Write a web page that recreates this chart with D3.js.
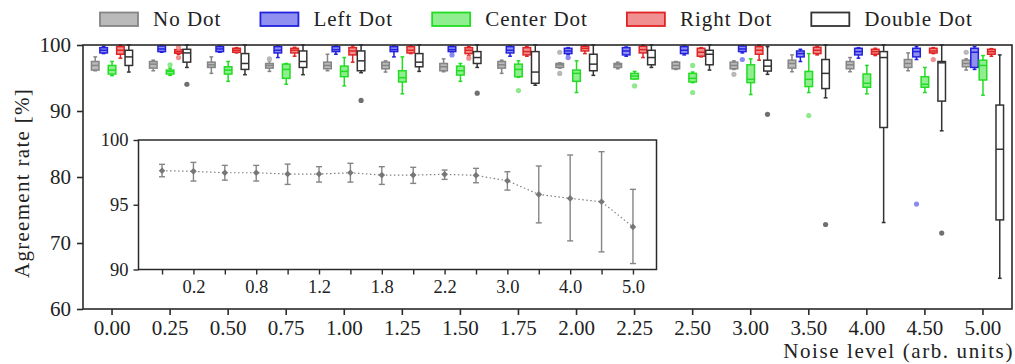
<!DOCTYPE html>
<html>
<head>
<meta charset="utf-8">
<script src="https://cdn.jsdelivr.net/npm/d3@7"></script>
<style>
  body { margin: 0; background: #fff; }
  svg text { font-family: "Liberation Serif", "Times New Roman", serif; fill: #222; }
</style>
</head>
<body>
<svg id="chart" width="1015" height="364"></svg>
<script>
// ─── Data ─────────────────────────────────────────────────────────────────────
const noiseLevels = ["0.00", "0.25", "0.50", "0.75", "1.00", "1.25", "1.50", "1.75",
  "2.00", "2.25", "2.50", "3.00", "3.50", "4.00", "4.50", "5.00"];
const seriesNames = ["No Dot", "Left Dot", "Center Dot", "Right Dot", "Double Dot"];

// box stats per noise level: [whisker low, Q1, median, Q3, whisker high]
const noDot = [
  [96.1, 96.2, 96.9, 97.5, 98.2], [96.1, 96.5, 97.1, 97.5, 97.7], [95.7, 96.6, 97.0, 97.4, 98.2],
  [96.0, 96.5, 96.9, 97.2, 97.6], [96.1, 96.4, 96.9, 97.4, 98.6], [95.9, 96.4, 96.9, 97.4, 97.6],
  [95.95, 96.1, 96.7, 97.2, 97.9], [95.7, 96.5, 97.0, 97.5, 97.7], [96.5, 96.6, 97.0, 97.2, 97.3],
  [96.4, 96.6, 97.0, 97.2, 97.4], [96.3, 96.4, 96.9, 97.4, 97.5], [96.3, 96.4, 96.9, 97.4, 97.6],
  [95.95, 96.5, 97.2, 97.7, 98.5], [95.95, 96.4, 97.0, 97.5, 98.1], [96.1, 96.6, 97.2, 97.8, 98.8],
  [96.2, 96.7, 97.2, 97.7, 97.9]
];
const leftDot = [
  [98.7, 98.8, 99.2, 99.6, 99.8], [98.9, 99.0, 99.4, 99.85, 99.95], [98.9, 99.0, 99.4, 99.75, 99.85],
  [98.1, 98.8, 99.2, 99.75, 99.85], [98.6, 99.0, 99.3, 99.75, 99.85], [98.2, 99.0, 99.3, 99.75, 99.85],
  [98.8, 99.0, 99.3, 99.75, 99.85], [98.3, 98.8, 99.2, 99.75, 99.85], [98.5, 98.7, 99.1, 99.5, 99.6],
  [98.3, 98.5, 99.1, 99.6, 99.7], [98.5, 98.7, 99.2, 99.75, 99.85], [98.8, 99.0, 99.4, 99.85, 99.95],
  [97.5, 98.2, 98.7, 99.1, 99.35], [98.0, 98.5, 99.0, 99.5, 99.6], [97.8, 98.2, 99.0, 99.5, 99.75],
  [96.3, 96.6, 98.9, 99.5, 99.75]
];
const centerDot = [
  [95.35, 95.6, 96.2, 96.9, 97.5], [95.4, 95.6, 96.0, 96.2, 96.5], [94.5, 95.6, 96.2, 96.7, 97.5],
  [94.05, 94.95, 96.3, 97.1, 97.2], [93.8, 95.2, 96.0, 96.8, 98.1], [92.6, 94.4, 95.05, 96.1, 98.2],
  [94.5, 95.45, 96.1, 96.8, 97.2], [95.1, 95.2, 96.3, 97.1, 97.6], [92.8, 94.5, 95.7, 96.2, 97.6],
  [94.85, 94.85, 95.3, 95.7, 96.0], [94.3, 94.4, 94.95, 95.7, 95.9], [92.5, 94.3, 94.8, 97.0, 97.9],
  [92.8, 93.7, 94.8, 96.0, 98.7], [92.6, 93.6, 94.2, 95.6, 96.9], [92.8, 93.6, 94.05, 95.2, 96.6],
  [92.4, 94.7, 96.9, 97.7, 98.4]
];
const rightDot = [
  [98.0, 98.6, 99.2, 99.75, 100.0], [98.6, 98.75, 99.0, 99.3, 99.4], [98.8, 98.9, 99.2, 99.5, 99.6],
  [98.3, 98.8, 99.2, 99.5, 99.65], [97.4, 98.5, 99.1, 99.6, 99.85], [98.7, 98.8, 99.2, 99.75, 99.85],
  [98.4, 98.7, 99.2, 99.6, 99.75], [98.3, 98.5, 99.0, 99.6, 99.75], [98.7, 99.1, 99.5, 99.8, 99.9],
  [98.1, 98.8, 99.3, 99.8, 100.0], [98.2, 98.3, 98.9, 99.5, 99.6], [97.7, 98.6, 99.2, 99.75, 100.0],
  [98.5, 98.7, 99.2, 99.65, 99.75], [98.4, 98.6, 99.0, 99.35, 99.5], [98.7, 98.8, 99.1, 99.5, 99.6],
  [98.3, 98.6, 99.0, 99.35, 99.45]
];
const doubleDot = [
  [95.9, 96.9, 98.2, 99.2, 100.0], [96.6, 97.4, 98.8, 99.35, 100.0], [95.5, 96.3, 97.2, 98.7, 100.0],
  [95.5, 96.6, 97.5, 99.1, 100.0], [95.8, 96.1, 97.6, 99.1, 100.0], [96.0, 96.7, 97.4, 98.7, 100.0],
  [96.6, 97.2, 98.1, 99.0, 100.0], [93.9, 94.2, 95.9, 99.0, 100.0], [95.4, 96.1, 97.1, 98.6, 100.0],
  [96.6, 97.0, 98.1, 99.2, 100.0], [96.2, 97.0, 98.6, 99.2, 100.0], [95.55, 96.05, 96.8, 97.7, 99.75],
  [92.0, 93.4, 95.7, 97.8, 100.0], [73.1, 87.5, 98.1, 99.0, 100.0], [87.0, 91.5, 97.3, 97.5, 100.0],
  [64.65, 73.5, 84.2, 90.9, 98.5]
];

// outliers: [noise level index, value]
const noDotOut = [[3, 97.9], [8, 98.9], [8, 95.7], [11, 95.55], [15, 98.9]];
const leftDotOut = [[6, 98.5], [8, 98.1], [11, 97.8], [14, 75.9]];
const centerDotOut = [[1, 97.0], [7, 93.1], [9, 93.8], [10, 96.9], [10, 92.8], [12, 89.3]];
const rightDotOut = [[1, 99.65], [1, 98.1], [6, 98.0], [14, 97.8]];
const doubleDotOut = [[1, 94.05], [4, 91.6], [6, 92.7], [11, 89.5], [12, 72.8], [14, 71.5]];

// inset: mean agreement with error bars
const insetMean = [97.63, 97.58, 97.47, 97.47, 97.37, 97.37, 97.47, 97.29,
  97.29, 97.35, 97.27, 96.85, 95.8, 95.49, 95.23, 93.29];
const insetLow = [97.16, 96.83, 96.9, 96.83, 96.57, 96.75, 96.75, 96.57,
  96.65, 96.96, 96.7, 96.13, 93.6, 92.21, 91.36, 90.46];
const insetHigh = [98.12, 98.27, 98.04, 98.04, 98.14, 97.94, 98.2, 97.94,
  97.89, 97.68, 97.81, 97.55, 97.99, 98.84, 99.1, 96.19];
const insetTickLabels = ["", "0.2", "", "0.8", "", "1.2", "", "1.8",
  "", "2.2", "", "3.0", "", "4.0", "", "5.0"];

const mainYTicks = [60, 70, 80, 90, 100];
const insetYTicks = [90, 95, 100];

// ─── Styles ──────────────────────────────────────────────────────────────────
const series = [
  { name: "No Dot", stats: noDot, out: noDotOut, face: "#bababa", edge: "#858585", flier: "#b8b8b8" },
  { name: "Left Dot", stats: leftDot, out: leftDotOut, face: "#9090f0", edge: "#2222dd", flier: "#8a8af0" },
  { name: "Center Dot", stats: centerDot, out: centerDotOut, face: "#90ee90", edge: "#22dd22", flier: "#8ee88e" },
  { name: "Right Dot", stats: rightDot, out: rightDotOut, face: "#f09090", edge: "#e02424", flier: "#f09090" },
  { name: "Double Dot", stats: doubleDot, out: doubleDotOut, face: "#ffffff", edge: "#333333", flier: "#707070" }
];

const svg = d3.select("#chart");
const ink = "#2a2a2a";

const plot = { left: 83, right: 1012, top: 45, bottom: 309 };
const x = d3.scaleBand().domain(noiseLevels).range([plot.left, plot.right]).padding(0);
const hue = d3.scaleBand().domain(seriesNames).range([-21, 21]);
const y = d3.scaleLinear().domain([60, 100]).range([plot.bottom, plot.top]);

// ─── Main axes ────────────────────────────────────────────────────────────────
const xAxis = svg.append("g").attr("transform", `translate(0,${plot.bottom})`)
  .call(d3.axisBottom(x).tickSize(6).tickPadding(5));
const yAxis = svg.append("g").attr("transform", `translate(${plot.left},0)`)
  .call(d3.axisLeft(y).tickValues(mainYTicks).tickSize(6).tickPadding(6));
[xAxis, yAxis].forEach((a) => {
  a.select(".domain").remove();
  a.selectAll(".tick line").attr("stroke", ink).attr("stroke-width", 1.6);
  a.selectAll(".tick text").attr("font-size", 21).attr("fill", ink)
    .style("font-family", "Liberation Serif, serif");
});

svg.append("text").attr("x", plot.right + 2).attr("y", 358)
  .attr("text-anchor", "end").attr("font-size", 21).attr("letter-spacing", 1.6)
  .text("Noise level (arb. units)");
svg.append("text").attr("transform", `translate(29,${(plot.top + plot.bottom) / 2 + 6}) rotate(-90)`)
  .attr("text-anchor", "middle").attr("font-size", 21).attr("letter-spacing", 1.3)
  .text("Agreement rate [%]");

// ─── Boxes ────────────────────────────────────────────────────────────────────
const boxW = hue.bandwidth() * 0.9;
const boxes = svg.append("g");
series.forEach((s) => {
  const g = boxes.append("g");
  s.stats.forEach((d, i) => {
    const cx = x(noiseLevels[i]) + x.bandwidth() / 2 + hue(s.name) + hue.bandwidth() / 2;
    const [lo, q1, med, q3, hi] = d;
    const line = (x1, y1, x2, y2) => g.append("line")
      .attr("x1", x1).attr("y1", y1).attr("x2", x2).attr("y2", y2)
      .attr("stroke", s.edge).attr("stroke-width", 1.5);
    line(cx, y(lo), cx, y(q1));
    line(cx, y(q3), cx, y(hi));
    line(cx - boxW / 4, y(lo), cx + boxW / 4, y(lo));
    line(cx - boxW / 4, y(hi), cx + boxW / 4, y(hi));
    g.append("rect").attr("x", cx - boxW / 2).attr("y", y(q3))
      .attr("width", boxW).attr("height", Math.max(0.5, y(q1) - y(q3)))
      .attr("fill", s.face).attr("stroke", s.edge).attr("stroke-width", 1.5);
    line(cx - boxW / 2, y(med), cx + boxW / 2, y(med));
  });
  g.selectAll("circle.flier").data(s.out).join("circle")
    .attr("class", "flier")
    .attr("cx", (d) => x(noiseLevels[d[0]]) + x.bandwidth() / 2 + hue(s.name) + hue.bandwidth() / 2)
    .attr("cy", (d) => y(d[1]))
    .attr("r", 2.6).attr("fill", s.flier);
});

// frame
svg.append("rect").attr("x", plot.left).attr("y", plot.top)
  .attr("width", plot.right - plot.left).attr("height", plot.bottom - plot.top)
  .attr("fill", "none").attr("stroke", ink).attr("stroke-width", 1.6);

// ─── Inset ────────────────────────────────────────────────────────────────────
const inset = { left: 138.5, right: 656.5, top: 140, bottom: 269.5 };
const ix = d3.scaleLinear().domain([-0.75, 15.75]).range([inset.left, inset.right]);
const iy = d3.scaleLinear().domain([90, 100]).range([inset.bottom, inset.top]);
const ig = svg.append("g");
ig.append("rect").attr("x", inset.left).attr("y", inset.top)
  .attr("width", inset.right - inset.left).attr("height", inset.bottom - inset.top)
  .attr("fill", "#fff");

const ixAxis = ig.append("g").attr("transform", `translate(0,${inset.bottom})`)
  .call(d3.axisBottom(ix).tickValues(d3.range(insetMean.length))
    .tickFormat((i) => insetTickLabels[i]).tickSize(5).tickPadding(5));
const iyAxis = ig.append("g").attr("transform", `translate(${inset.left},0)`)
  .call(d3.axisLeft(iy).tickValues(insetYTicks).tickSize(5).tickPadding(5));
[ixAxis, iyAxis].forEach((a) => {
  a.select(".domain").remove();
  a.selectAll(".tick line").attr("stroke", ink).attr("stroke-width", 1.4);
  a.selectAll(".tick text").attr("font-size", 18.5).attr("fill", ink)
    .style("font-family", "Liberation Serif, serif");
});
ixAxis.selectAll(".tick text").attr("dy", "0.75em");

const pts = insetMean.map((m, i) => ({ i, m, lo: insetLow[i], hi: insetHigh[i] }));
ig.append("path").datum(pts)
  .attr("d", d3.line().x((d) => ix(d.i)).y((d) => iy(d.m)))
  .attr("fill", "none").attr("stroke", "#808080").attr("stroke-width", 1.2)
  .attr("stroke-dasharray", "1.5,2.5");
const eb = ig.append("g").attr("stroke", "#858585").attr("stroke-width", 1.4);
pts.forEach((d) => {
  const cx = ix(d.i);
  eb.append("line").attr("x1", cx).attr("x2", cx).attr("y1", iy(d.lo)).attr("y2", iy(d.hi));
  eb.append("line").attr("x1", cx - 3).attr("x2", cx + 3).attr("y1", iy(d.lo)).attr("y2", iy(d.lo));
  eb.append("line").attr("x1", cx - 3).attr("x2", cx + 3).attr("y1", iy(d.hi)).attr("y2", iy(d.hi));
});
ig.selectAll("path.mk").data(pts).join("path").attr("class", "mk")
  .attr("transform", (d) => `translate(${ix(d.i)},${iy(d.m)}) rotate(45)`)
  .attr("d", d3.symbol(d3.symbolSquare, 22)).attr("fill", "#777");

ig.append("rect").attr("x", inset.left).attr("y", inset.top)
  .attr("width", inset.right - inset.left).attr("height", inset.bottom - inset.top)
  .attr("fill", "none").attr("stroke", ink).attr("stroke-width", 1.5);

// ─── Legend ───────────────────────────────────────────────────────────────────
const legend = svg.append("g");
let lx = 100;
series.forEach((s) => {
  legend.append("rect").attr("x", lx).attr("y", 12.5).attr("width", 38).attr("height", 13.5)
    .attr("fill", s.face).attr("stroke", s.edge).attr("stroke-width", 1.8);
  const t = legend.append("text").attr("x", lx + 53).attr("y", 26)
    .attr("font-size", 21).attr("letter-spacing", 1).text(s.name);
  lx += 53 + t.node().getComputedTextLength() + 39;
});
</script>
</body>
</html>
